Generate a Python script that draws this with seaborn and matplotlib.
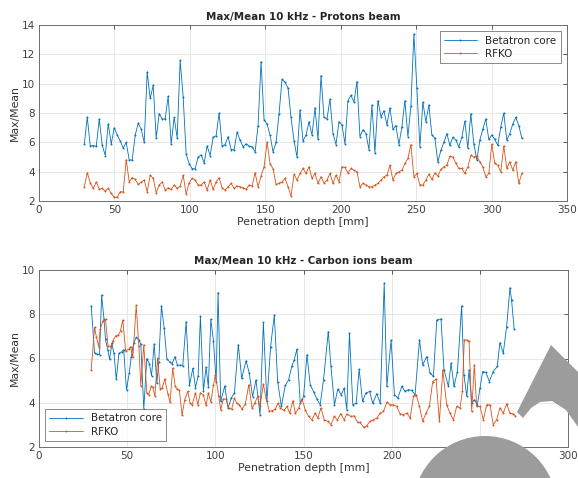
"""Max/Mean 10 kHz: Betatron core vs RFKO, protons and carbon ions (MATLAB-style figure)."""
import numpy as np
import matplotlib; matplotlib.use('Agg')
import matplotlib.pyplot as plt
from matplotlib.patches import Polygon, Ellipse
from matplotlib.ticker import MultipleLocator
import seaborn as sns

BLUE = '#0072BD'
RED = '#D95319'

# ---- protons: ~2 mm depth steps from 30 to 320 mm
p_depth = np.linspace(30, 320, 147)
p_betatron = [5.87, 7.72, 5.76, 5.78, 5.73, 7.6, 5.8, 5.1, 7.27, 5.9,
              7.0, 6.5, 6.1, 5.6, 6.0, 4.8, 4.8, 6.5, 7.3, 6.9,
              6.0, 10.8, 9.0, 9.9, 6.3, 7.95, 7.6, 7.6, 9.15, 5.9,
              7.7, 6.3, 11.6, 9.1, 5.2, 4.55, 4.2, 4.2, 5.0, 5.15,
              4.6, 5.75, 5.1, 6.35, 6.45, 8.0, 5.75, 5.85, 6.4, 5.5,
              5.5, 6.7, 6.15, 5.7, 5.9, 5.75, 5.7, 5.35, 7.15, 11.5,
              7.55, 7.25, 6.5, 5.35, 6.0, 7.95,
              10.3, 10.1, 9.7, 7.7, 6.1, 5.0, 8.2, 6.1, 6.5, 7.4,
              6.5, 8.35, 6.2, 10.55, 7.7, 7.6, 8.95, 6.6, 5.85, 7.4,
              7.2, 5.9, 8.85, 9.2, 8.75, 10.15, 6.4, 6.85, 6.6, 5.5,
              8.55, 5.3, 8.85, 7.75, 8.15, 7.2, 8.35, 6.9, 7.15, 5.85,
              7.05, 8.85, 6.4, 8.45, 13.4, 9.7, 5.7, 8.75, 7.4, 8.55,
              6.5, 6.3, 4.65, 5.45, 6.0, 6.6, 5.8, 6.35, 6.15, 5.7,
              6.35, 7.45, 5.6, 7.95, 5.9, 4.8, 6.15, 6.9, 7.6, 6.2,
              6.5, 6.2, 5.8, 7.05, 8.0, 6.15, 6.6, 7.25, 7.7, 7.15,
              6.3]
p_rfko = [2.97, 3.92, 3.25, 2.86, 3.3, 2.8, 2.86, 2.68, 2.86, 2.52,
          2.25, 2.25, 2.63, 2.63, 4.83, 3.3, 3.6, 3.47, 3.13, 3.3,
          3.43, 2.63, 3.76, 3.54, 2.57, 3.09, 3.3, 2.75, 2.9, 2.8,
          3.09, 2.86, 3.02, 3.76, 2.48, 3.25, 3.54, 3.43, 3.09, 3.09,
          3.3, 2.75, 3.43, 2.8, 3.3, 3.58, 2.9, 2.75, 2.97, 3.2,
          2.86, 3.02, 2.97, 2.9, 2.8, 3.09, 3.02, 3.92, 2.97, 3.7,
          4.33, 6.03, 4.55, 4.2, 3.13, 3.2,
          3.31, 3.54, 2.97, 2.34, 3.81, 3.43, 3.88, 4.22, 3.88, 4.33,
          3.54, 3.88, 3.2, 3.65, 3.24, 3.43, 3.88, 3.2, 3.76, 3.31,
          4.33, 4.29, 3.92, 4.22, 4.1, 3.99, 2.97, 3.2, 3.09, 2.97,
          2.97, 3.09, 3.2, 3.43, 3.65, 3.76, 4.44, 3.43, 3.88, 3.99,
          4.1, 4.56, 4.9, 5.85, 3.65, 3.88, 3.09, 3.09, 3.43, 3.83,
          3.47, 3.92, 3.7, 4.15, 4.33, 4.44, 5.05, 5.0, 4.56, 4.22,
          4.22, 3.88, 4.33, 5.12, 5.0, 5.05, 4.67, 4.33, 3.65, 3.88,
          5.87, 4.56, 4.44, 3.99, 5.76, 4.22, 4.67, 4.1, 4.67, 3.2,
          3.88]

# ---- carbon ions
c_depth_bc = [29.6, 31.5, 33, 34.3, 35.5, 36.8, 37.7, 39, 40, 41.3,
              42.5, 43.8, 45.3, 46.8, 48, 49.6, 51.1, 52.3, 53.6, 55.1,
              56.6, 57.7, 59.4, 61.1, 62.6, 63.8, 65.3, 66.8, 67.9, 69.4,
              70.9, 72.5, 74, 75.5, 77, 78.5, 80, 81.5, 83.4, 85.3,
              87.2, 88.7, 90.2, 91.5, 93.2, 94.7, 96, 97.4, 98.9, 100.4,
              101.5, 103, 105.3, 107.2, 108.9, 110.8, 113, 114.9, 117.4, 119.2,
              121.1, 123, 125.3, 127.2, 129.2, 131.3, 133.4, 135.3, 137.4,
              139.6, 141.5, 143.4, 144.7, 146.2, 148.1, 150, 151.9, 153.8, 155.7,
              157.5, 159.4, 161.3, 164, 165.5, 167.5, 169.4, 171.3, 173, 174.5,
              176, 177.9, 179.8, 181.5, 183.4, 185.3, 187.4, 189.2, 191.5, 193.4,
              195.7, 197.2, 199.6, 201.5, 203.4, 205.7, 207.5, 209.4, 211.3, 213.2,
              215.7, 217.5, 219.8, 221.7, 223.6, 225.5, 227.9, 229.6, 232.1, 233.6,
              235.3, 237.2, 239.6, 240.9, 242.5, 243.8, 245.3, 246.8, 248.5, 250,
              251.5, 253.4, 255.3, 257.5, 259.8, 261.3, 263.2, 265.1, 267, 267.9,
              269.4]
c_betatron = [8.38, 6.24, 6.2, 6.17, 8.87, 7.8, 6.86, 6.38, 5.96, 6.68,
              6.23, 5.06, 6.23, 6.3, 6.4, 4.58, 5.33, 6.08, 6.68, 6.95,
              6.84, 6.65, 3.71, 6.0, 5.76, 5.22, 6.66, 4.88, 5.85, 8.38,
              7.4, 5.98, 5.85, 5.77, 6.08, 5.7, 5.7, 5.68, 7.66, 4.8,
              5.55, 4.68, 5.2, 7.9, 4.55, 5.6, 4.72, 7.77, 6.8, 4.95,
              8.98, 4.06, 4.76, 3.75, 4.2, 4.45, 6.62, 5.1, 5.9, 5.33,
              4.28, 5.03, 3.46, 7.63, 4.06, 6.54, 7.97, 4.95, 3.83,
              4.78, 5.04, 5.67, 5.94, 6.42, 3.98, 4.29, 6.17, 4.8, 4.5,
              4.17, 3.91, 5.04, 7.22, 5.64, 3.91, 4.62, 4.36, 4.66, 3.68,
              7.14, 3.91, 3.98, 5.52, 4.06, 4.44, 4.51, 3.98, 4.41, 3.98,
              9.4, 4.74, 6.84, 4.36, 4.21, 4.74, 4.51, 4.59, 4.56, 4.36,
              6.84, 5.71, 6.09, 5.34, 5.19, 7.74, 7.79, 5.49, 4.74, 5.79,
              4.74, 5.41, 8.38, 5.26, 4.29, 5.49, 3.98, 4.14, 3.91, 4.66,
              5.41, 5.37, 4.96, 5.41, 5.64, 6.72, 6.24, 7.44, 9.2, 8.65,
              7.32]
c_depth_rf = [29.6, 31.5, 32.5, 33.8, 34.7, 36.2, 37.7, 39.1, 40.6, 41.9,
              43.4, 44.9, 46.2, 47.5, 49.1, 50.8, 51.9, 53.2, 55.1, 56.6,
              57.7, 59.4, 61.1, 62.1, 63.6, 64.5, 65.7, 67.2, 68.7, 69.8,
              71.3, 73, 74.3, 75.8, 77.2, 78.3, 79.6, 81.1, 82.6, 84.3,
              85.7, 86.8, 88.7, 90, 91.5, 93.2, 94.7, 96, 97.4, 98.9,
              100, 101.9, 103, 104.5, 106, 107.5, 109.2, 110.8, 112.1, 113.6,
              115.1, 117, 118.9, 120.8, 122.3, 124, 125.3, 127.2, 128.7, 130.6,
              132.1, 134, 135.5,
              136.8, 138.7, 140.6, 142.1, 144, 145.3, 147.2, 149.1, 150.9, 152.8,
              154.7, 156.6, 158.1, 159.8, 161.7, 163.6, 165.5, 167.4, 169.2, 171.1,
              173, 174.5, 176.8, 178.7, 180.6, 182.1, 184, 185.8, 187.7, 189.6,
              191.5, 193.4, 195.3, 197.2, 199.1, 200.9, 202.8, 204.7, 206.6, 208.5,
              210.4, 212.3, 213.8, 215.7, 217.5, 219.4, 221.3, 223.2, 225.1, 227,
              228.9, 231.1, 233, 234.9, 236.8, 238.7, 240, 241.1, 242.5, 243.8,
              245.3, 246.8, 248.1, 250, 251.9, 253.8, 255.7, 257.5, 259.4, 261.3,
              263.2, 265.1, 267, 268.9, 270]
c_rfko = [5.49, 7.41, 6.99, 6.54, 7.32, 7.7, 7.77, 6.57, 6.54, 6.8,
          7.02, 7.04, 7.25, 7.74, 6.35, 6.42, 6.54, 6.05, 8.41, 6.57,
          4.77, 6.62, 4.44, 4.36, 4.74, 4.69, 4.29, 6.02, 4.62, 4.66,
          5.07, 4.41, 4.02, 5.56, 4.74, 4.63, 4.56, 3.43, 4.14, 4.51,
          3.98, 3.91, 4.44, 3.91, 4.44, 4.36, 3.88, 4.44, 4.03, 4.81,
          5.26, 4.29, 3.68, 4.17, 4.17, 3.76, 3.71, 4.21, 3.98, 3.91,
          3.71, 3.95, 4.81, 3.76, 3.98, 4.29, 3.83, 4.84, 4.21, 3.61,
          3.64, 3.71, 3.98,
          3.76, 3.65, 3.83, 3.53, 4.09, 3.53, 3.76, 4.17, 3.68, 3.38,
          3.23, 3.53, 3.31, 3.76, 3.23, 3.16, 3.01, 3.38, 3.23, 3.5,
          3.23, 3.49, 3.38, 3.41, 3.11, 3.11, 2.89, 2.96, 3.16, 3.23,
          3.31, 3.53, 3.61, 4.02, 3.91, 3.91, 3.83, 3.5, 3.46, 3.53,
          3.31, 4.29, 4.36, 3.83, 3.16, 3.53, 3.83, 4.96, 5.07, 3.16,
          5.49, 3.91, 3.53, 3.23, 3.83, 3.76, 4.51, 6.84, 6.84, 6.77,
          3.61, 5.71, 3.83, 3.83, 3.23, 3.91, 3.91, 3.01, 3.23, 3.76,
          3.53, 3.95, 3.53, 3.5, 3.41]

sns.set_theme(style='white')
plt.rcParams['font.family'] = ['DejaVu Sans']
plt.rcParams['font.size'] = 7.5

fig = plt.figure(figsize=(5.78, 4.78), dpi=100)
ax1 = fig.add_axes([0.0675, 0.5795, 0.9135, 0.368])
ax2 = fig.add_axes([0.0675, 0.0649, 0.9155, 0.3702])

kw = dict(marker='.', markersize=2.8, linewidth=0.6, markeredgewidth=0)
sns.lineplot(x=p_depth, y=p_betatron, ax=ax1, color=BLUE, label='Betatron core', **kw)
sns.lineplot(x=p_depth, y=p_rfko, ax=ax1, color=RED, label='RFKO', **kw)
sns.lineplot(x=c_depth_bc, y=c_betatron, ax=ax2, color=BLUE, label='Betatron core', **kw)
sns.lineplot(x=c_depth_rf, y=c_rfko, ax=ax2, color=RED, label='RFKO', **kw)

for ax, title, xlim, ylim, loc in [
        (ax1, 'Max/Mean 10 kHz - Protons beam', (0, 350), (2, 14), 'upper right'),
        (ax2, 'Max/Mean 10 kHz - Carbon ions beam', (0, 300), (2, 10), 'lower left')]:
    ax.set_xlim(*xlim); ax.set_ylim(*ylim)
    ax.xaxis.set_major_locator(MultipleLocator(50))
    ax.yaxis.set_major_locator(MultipleLocator(2))
    ax.set_title(title, fontweight='bold', fontsize=7.4, pad=4)
    ax.set_xlabel('Penetration depth [mm]', fontsize=7.8, labelpad=1, color='#333333')
    ax.set_ylabel('Max/Mean', fontsize=7.8, labelpad=1.5, color='#333333')
    ax.grid(True, color='#e3e3e3', linewidth=0.6)
    ax.tick_params(direction='in', length=3, width=0.6, top=True, right=True,
                   labelsize=7.5, colors='#404040', pad=3)
    for s in ax.spines.values():
        s.set_color('#6e6e6e'); s.set_linewidth(0.7)
    leg = ax.legend(loc=loc, fontsize=7.5, frameon=True, fancybox=False,
                    borderaxespad=0.6, handlelength=3.2, labelspacing=0.3)
    leg.get_frame().set_edgecolor('#555555'); leg.get_frame().set_linewidth(0.6)

# grey overlay shapes at the lower right of the picture
W, H = 578.0, 478.0
chev = [(517, 412), (551, 345), (578, 372), (578, 427), (566, 410),
        (552, 401), (540, 402), (531, 408), (523, 418)]
fig.patches.append(Polygon([(x / W, 1 - y / H) for x, y in chev], closed=True,
                           transform=fig.transFigure, facecolor='#9c9c9c',
                           edgecolor='none', zorder=5))
R = 72.0
fig.patches.append(Ellipse((485 / W, 1 - 508 / H), 2 * R / W, 2 * R / H,
                           transform=fig.transFigure, facecolor='#9c9c9c',
                           edgecolor='none', zorder=5))

fig.savefig('out.png', dpi=100)
